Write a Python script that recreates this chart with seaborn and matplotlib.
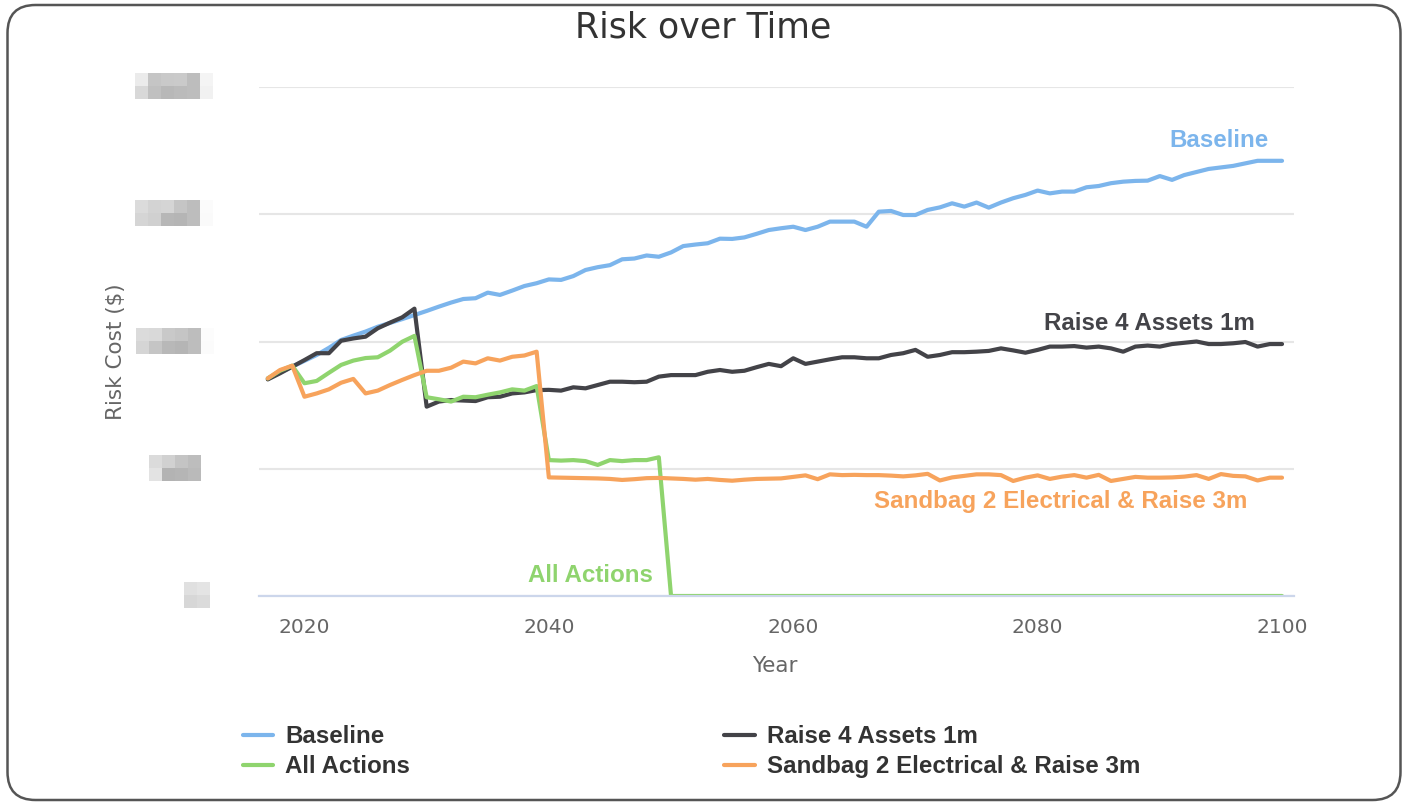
import numpy as np
import pandas as pd
import matplotlib
matplotlib.use("Agg")
import matplotlib.pyplot as plt
import seaborn as sns
from matplotlib.patches import FancyBboxPatch
from matplotlib.lines import Line2D
from matplotlib.transforms import IdentityTransform

# ---- data (risk cost in $M per year) ----
years = list(range(2017, 2101))

baseline = [
    85.5, 87.8, 90.1, 92.4, 94.7, 97.5, 100.6, 102.3, 103.9, 105.8,
    107.3, 108.8, 110.4, 112.0, 113.7, 115.3, 116.7, 117.0, 119.2, 118.3,
    120.0, 121.8, 122.9, 124.4, 124.2, 125.7, 128.1, 129.2, 130.0, 132.3,
    132.6, 133.8, 133.3, 135.0, 137.5, 138.1, 138.6, 140.4, 140.3, 140.9,
    142.3, 143.8, 144.5, 145.1, 143.8, 145.1, 147.1, 147.1, 147.1, 145.1,
    151.0, 151.3, 149.7, 149.7, 151.7, 152.7, 154.3, 153.0, 154.6, 152.6,
    154.6, 156.3, 157.6, 159.3, 158.2, 158.9, 158.9, 160.6, 161.1, 162.2,
    162.8, 163.1, 163.2, 165.0, 163.5, 165.4, 166.6, 167.8, 168.4, 169.0,
    170.0, 171.0, 171.0, 171.0,
]

raise_4_assets = [
    85.1, 87.5, 90.1, 92.7, 95.4, 95.4, 100.3, 101.2, 101.9, 105.2,
    107.4, 109.5, 112.9, 74.4, 76.4, 77.0, 76.8, 76.6, 78.1, 78.3,
    79.6, 80.0, 80.9, 81.0, 80.7, 82.0, 81.6, 82.9, 84.2, 84.2,
    84.0, 84.2, 86.2, 86.8, 86.8, 86.8, 88.1, 88.8, 88.1, 88.5,
    89.9, 91.2, 90.3, 93.4, 91.2, 92.1, 93.0, 93.8, 93.8, 93.4,
    93.4, 94.7, 95.4, 96.7, 94.0, 94.7, 95.8, 95.8, 96.0, 96.3,
    97.3, 96.5, 95.6, 96.7, 98.0, 98.0, 98.2, 97.6, 98.0, 97.3,
    96.0, 98.0, 98.4, 98.0, 99.0, 99.5, 100.0, 99.0, 99.0, 99.3,
    99.8, 98.0, 99.0, 99.0,
]

all_actions = [
    85.5, 88.5, 90.5, 83.6, 84.5, 87.7, 90.8, 92.5, 93.5, 93.8,
    96.4, 99.9, 102.2, 78.1, 77.3, 76.4, 78.3, 78.1, 79.1, 80.0,
    81.2, 80.7, 82.5, 53.4, 53.2, 53.4, 53.0, 51.5, 53.4, 53.0,
    53.4, 53.4, 54.5, 0.0, 0.0, 0.0, 0.0, 0.0, 0.0, 0.0,
    0.0, 0.0, 0.0, 0.0, 0.0, 0.0, 0.0, 0.0, 0.0, 0.0,
    0.0, 0.0, 0.0, 0.0, 0.0, 0.0, 0.0, 0.0, 0.0, 0.0,
    0.0, 0.0, 0.0, 0.0, 0.0, 0.0, 0.0, 0.0, 0.0, 0.0,
    0.0, 0.0, 0.0, 0.0, 0.0, 0.0, 0.0, 0.0, 0.0, 0.0,
    0.0, 0.0, 0.0, 0.0,
]

sandbag_raise = [
    85.5, 88.8, 90.5, 78.3, 79.6, 81.2, 83.8, 85.3, 79.6, 80.7,
    82.9, 84.9, 86.8, 88.5, 88.5, 89.7, 92.1, 91.4, 93.4, 92.5,
    94.0, 94.5, 96.0, 46.6, 46.5, 46.4, 46.3, 46.2, 46.0, 45.6,
    45.9, 46.3, 46.4, 46.2, 46.0, 45.7, 46.0, 45.6, 45.3, 45.7,
    46.0, 46.1, 46.2, 46.8, 47.4, 45.9, 47.8, 47.5, 47.6, 47.5,
    47.5, 47.3, 47.0, 47.4, 48.0, 45.4, 46.6, 47.2, 47.8, 47.8,
    47.5, 45.2, 46.5, 47.4, 46.0, 46.9, 47.5, 46.5, 47.6, 45.2,
    46.0, 46.8, 46.5, 46.5, 46.6, 46.9, 47.5, 46.0, 47.9, 47.2,
    47.0, 45.4, 46.5, 46.5,
]

series_names = ["Baseline", "Raise 4 Assets 1m", "All Actions",
                "Sandbag 2 Electrical & Raise 3m"]
series_colors = ["#7cb5ec", "#434348", "#8fd46e", "#f7a35c"]
y_ticks = [0, 50, 100, 150, 200]
y_tick_labels = ["0", "50M", "100M", "150M", "200M"]
x_ticks = [2020, 2040, 2060, 2080, 2100]

df = pd.DataFrame({
    "Year": years,
    series_names[0]: baseline,
    series_names[1]: raise_4_assets,
    series_names[2]: all_actions,
    series_names[3]: sandbag_raise,
}).melt(id_vars="Year", var_name="Series", value_name="Risk")

sns.set_style("white")
plt.rcParams["font.family"] = ["DejaVu Sans"]

W, H = 1408, 805
fig = plt.figure(figsize=(W / 100, H / 100), dpi=100)
ax = fig.add_axes([259 / W, 1 - 596 / H, (1294 - 259) / W, (596 - 87) / H])

palette = dict(zip(series_names, series_colors))
sns.lineplot(data=df, x="Year", y="Risk", hue="Series", hue_order=series_names,
             palette=palette, linewidth=3.0, legend=False, ax=ax,
             solid_capstyle="round", solid_joinstyle="round")

ax.set_xlim(2016.28, 2100.98)
ax.set_ylim(0, 200)
ax.set_xticks(x_ticks)
ax.set_yticks(y_ticks)
ax.set_yticklabels(y_tick_labels)

ax.yaxis.grid(True, color="#e6e6e6", linewidth=1.5)
ax.xaxis.grid(False)
ax.set_axisbelow(True)
for side in ("left", "top", "right"):
    ax.spines[side].set_visible(False)
ax.spines["bottom"].set_color("#ccd6eb")
ax.spines["bottom"].set_linewidth(1.6)

ax.tick_params(axis="x", length=10, width=1.2, color="#ccd6eb",
               labelcolor="#666666", labelsize=14.5, pad=6)
ax.tick_params(axis="y", length=0, labelcolor="#444444", labelsize=15, pad=40)


def pixelate(img, dpi, block=13, pad=6):
    """Mosaic the rendered label into coarse square blocks."""
    h, w = img.shape[:2]
    Hh = ((h + 2 * pad + block - 1) // block) * block
    Ww = ((w + 2 * pad + block - 1) // block) * block
    canvas = np.zeros((Hh, Ww, 4))
    canvas[pad:pad + h, pad:pad + w] = img
    a = canvas[..., 3]
    a_blocks = a.reshape(Hh // block, block, Ww // block, block)
    a_sum = a_blocks.sum(axis=(1, 3))
    rgb = (canvas[..., :3] * a[..., None]).reshape(
        Hh // block, block, Ww // block, block, 3).sum(axis=(1, 3))
    rgb = rgb / np.maximum(a_sum, 1e-9)[..., None]
    out = np.concatenate([rgb, a_blocks.mean(axis=(1, 3))[..., None]], axis=-1)
    out = np.repeat(np.repeat(out, block, axis=0), block, axis=1)
    return out, -pad, -(Hh - h - pad)


for tick in ax.yaxis.get_major_ticks():
    tick.label1.set_fontweight("bold")
    tick.label1.set_agg_filter(pixelate)

ax.set_xlabel("Year", fontsize=15.5, color="#666666")
ax.xaxis.set_label_coords((775 - 259) / 1035, (596 - 666) / 509)
ax.xaxis.label.set_va("center")
ax.set_ylabel("Risk Cost ($)", fontsize=15.5, color="#666666")
ax.yaxis.set_label_coords((116 - 259) / 1035, (596 - 352) / 509)
ax.yaxis.label.set_va("center")

# series name labels
label_font = dict(family="Liberation Sans", fontweight="bold", fontsize=17.4)
ax.annotate("Baseline", xy=(years[-1], baseline[-1]), xytext=(-10, 14.3),
            textcoords="offset points", ha="right", va="center",
            color=series_colors[0], **label_font)
ax.annotate("Raise 4 Assets 1m", xy=(years[-1], raise_4_assets[-1]),
            xytext=(-19.5, 15), textcoords="offset points", ha="right",
            va="center", color=series_colors[1], **label_font)
ax.annotate("Sandbag 2 Electrical & Raise 3m", xy=(years[-1], sandbag_raise[-1]),
            xytext=(-25, -17.5), textcoords="offset points", ha="right",
            va="center", color=series_colors[3], **label_font)
zero_idx = all_actions.index(0.0)
ax.annotate("All Actions", xy=(years[zero_idx], all_actions[zero_idx]),
            xytext=(-58, 15), textcoords="offset points", ha="center",
            va="center", color=series_colors[2], **label_font)

fig.text(703 / W, 1 - 28 / H, "Risk over Time", ha="center", va="center",
         fontsize=25, color="#333333")

# legend: two columns, row-wise order as Baseline / Raise, All Actions / Sandbag
order = [0, 2, 1, 3]
handles = [Line2D([0], [0], color=series_colors[i], lw=3) for i in order]
labels = [series_names[i] for i in order]
leg = fig.legend(handles, labels, ncol=2, loc="upper left",
                 bbox_to_anchor=(243 / W, 1 - 725 / H), frameon=False,
                 prop=dict(family="Liberation Sans", weight="bold", size=17.4),
                 handlelength=1.25, handletextpad=0.5, columnspacing=13.0,
                 labelspacing=0.3, borderpad=0, borderaxespad=0)
for t in leg.get_texts():
    t.set_color("#333333")

frame = FancyBboxPatch((7.5, 5), 1393, 795, boxstyle="round,pad=0,rounding_size=28",
                       transform=IdentityTransform(), fill=False,
                       edgecolor="#555555", linewidth=1.8)
fig.add_artist(frame)

fig.savefig("out.png", dpi=100)
